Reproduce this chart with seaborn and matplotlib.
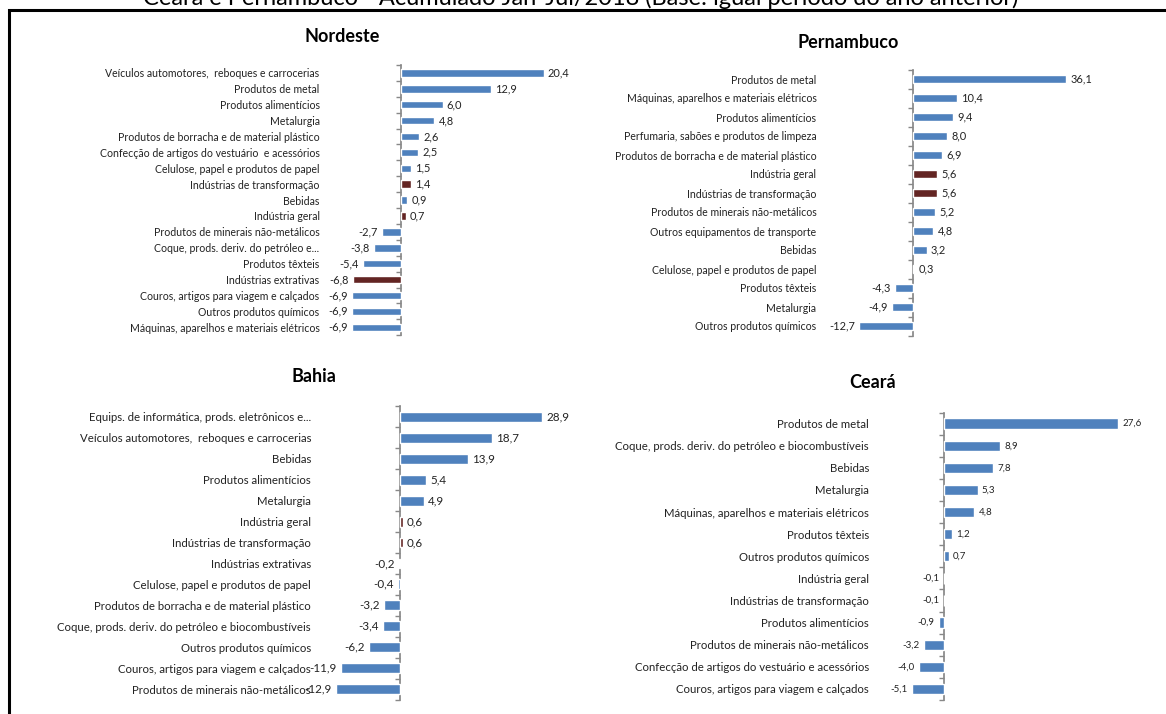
import numpy as np
import pandas as pd
import matplotlib
matplotlib.use('Agg')
import matplotlib.pyplot as plt
import seaborn as sns

sns.set_theme(style='white')
plt.rcParams['font.family'] = ['Lato', 'DejaVu Sans']

W, H = 1166, 714
BLUE = '#4F81BD'
DARK = '#632523'
GRAY = '#888888'

# totals drawn in dark red
aggregates = ['Indústrias de transformação', 'Indústria geral', 'Indústrias extrativas']

nordeste_cats = ['Veículos automotores,  reboques e carrocerias', 'Produtos de metal',
                 'Produtos alimentícios', 'Metalurgia',
                 'Produtos de borracha e de material plástico',
                 'Confecção de artigos do vestuário  e acessórios',
                 'Celulose, papel e produtos de papel', 'Indústrias de transformação',
                 'Bebidas', 'Indústria geral', 'Produtos de minerais não-metálicos',
                 'Coque, prods. deriv. do petróleo e...', 'Produtos têxteis',
                 'Indústrias extrativas', 'Couros, artigos para viagem e calçados',
                 'Outros produtos químicos', 'Máquinas, aparelhos e materiais elétricos']
nordeste_vals = [20.4, 12.9, 6.0, 4.8, 2.6, 2.5, 1.5, 1.4, 0.9, 0.7,
                 -2.7, -3.8, -5.4, -6.8, -6.9, -6.9, -6.9]

pernambuco_cats = ['Produtos de metal', 'Máquinas, aparelhos e materiais elétricos',
                   'Produtos alimentícios', 'Perfumaria, sabões e produtos de limpeza',
                   'Produtos de borracha e de material plástico', 'Indústria geral',
                   'Indústrias de transformação', 'Produtos de minerais não-metálicos',
                   'Outros equipamentos de transporte', 'Bebidas',
                   'Celulose, papel e produtos de papel', 'Produtos têxteis',
                   'Metalurgia', 'Outros produtos químicos']
pernambuco_vals = [36.1, 10.4, 9.4, 8.0, 6.9, 5.6, 5.6, 5.2, 4.8, 3.2, 0.3,
                   -4.3, -4.9, -12.7]

bahia_cats = ['Equips. de informática, prods. eletrônicos e...',
              'Veículos automotores,  reboques e carrocerias', 'Bebidas',
              'Produtos alimentícios', 'Metalurgia', 'Indústria geral',
              'Indústrias de transformação', 'Indústrias extrativas',
              'Celulose, papel e produtos de papel',
              'Produtos de borracha e de material plástico',
              'Coque, prods. deriv. do petróleo e biocombustíveis',
              'Outros produtos químicos', 'Couros, artigos para viagem e calçados',
              'Produtos de minerais não-metálicos']
bahia_vals = [28.9, 18.7, 13.9, 5.4, 4.9, 0.6, 0.6, -0.2, -0.4, -3.2, -3.4,
              -6.2, -11.9, -12.9]

ceara_cats = ['Produtos de metal', 'Coque, prods. deriv. do petróleo e biocombustíveis',
              'Bebidas', 'Metalurgia', 'Máquinas, aparelhos e materiais elétricos',
              'Produtos têxteis', 'Outros produtos químicos', 'Indústria geral',
              'Indústrias de transformação', 'Produtos alimentícios',
              'Produtos de minerais não-metálicos',
              'Confecção de artigos do vestuário e acessórios',
              'Couros, artigos para viagem e calçados']
ceara_vals = [27.6, 8.9, 7.8, 5.3, 4.8, 1.2, 0.7, -0.1, -0.1, -0.9, -3.2, -4.0, -5.1]


def fmt(v):
    return f'{v:.1f}'.replace('.', ',')


def panel(fig, cats, vals, xlim, box, title, title_xy, lab_fs, val_fs, pad):
    left, top, right, bottom = box
    ax = fig.add_axes([left / W, 1 - bottom / H, (right - left) / W, (bottom - top) / H])
    df = pd.DataFrame({'cat': cats, 'val': vals})
    pal = {c: (DARK if c in aggregates else BLUE) for c in cats}
    sns.barplot(data=df, x='val', y='cat', hue='cat', palette=pal, legend=False,
                orient='h', width=0.47, saturation=1, ax=ax)
    n = len(cats)
    ax.set_xlim(*xlim)
    ax.set_ylim(n - 0.5, -0.5)
    for c in ax.containers:
        ax.bar_label(c, labels=[fmt(b.get_width()) for b in c], padding=3,
                     fontsize=val_fs, color='#222222')
    for s in ax.spines.values():
        s.set_visible(False)
    ax.set_xticks([])
    ax.set_xlabel('')
    ax.set_ylabel('')
    ax.tick_params(axis='y', length=0, pad=pad, labelsize=lab_fs, colors='#222222')
    # category axis at zero with tick marks between categories
    loc = (0 - xlim[0]) / (xlim[1] - xlim[0])
    sec = ax.secondary_yaxis(loc)
    sec.set_yticks(np.arange(n + 1) - 0.5)
    sec.set_yticklabels([])
    sec.tick_params(left=True, length=3.5, width=1, color=GRAY, direction='out')
    for s in sec.spines.values():
        s.set_color(GRAY)
    fig.text(title_xy[0] / W, 1 - title_xy[1] / H, title, ha='center', va='center',
             fontsize=13, fontweight='bold', color='black')
    return ax


fig = plt.figure(figsize=(W / 100, H / 100), dpi=100)

fig.text(581 / W, 1 - 5 / H,
         'Ceará e Pernambuco - Acumulado Jan-Jul/2018 (Base: igual período do ano anterior)',
         ha='center', va='baseline', fontsize=17, color='black')
fig.add_artist(plt.Rectangle((9 / W, -0.1), 1.2, 1 - 10 / H + 0.1, transform=fig.transFigure,
                             fill=False, lw=2.2, edgecolor='black'))

panel(fig, nordeste_cats, nordeste_vals, (-10, 25), (330.7, 65, 575.7, 335.2),
      'Nordeste', (342, 37), 7.6, 7.9, 8)
panel(fig, pernambuco_cats, pernambuco_vals, (-20, 40), (828, 69.5, 1083, 335.5),
      'Pernambuco', (848, 43), 7.6, 7.9, 8.3)
panel(fig, bahia_cats, bahia_vals, (-15, 35), (325.5, 406.5, 572.5, 699.5),
      'Bahia', (314, 376), 8.2, 8.4, 10.4)
panel(fig, ceara_cats, ceara_vals, (-10, 30), (881.4, 412.6, 1133, 700),
      'Ceará', (873, 383), 8.2, 7.0, 8.9)

fig.savefig('out.png', dpi=100)
